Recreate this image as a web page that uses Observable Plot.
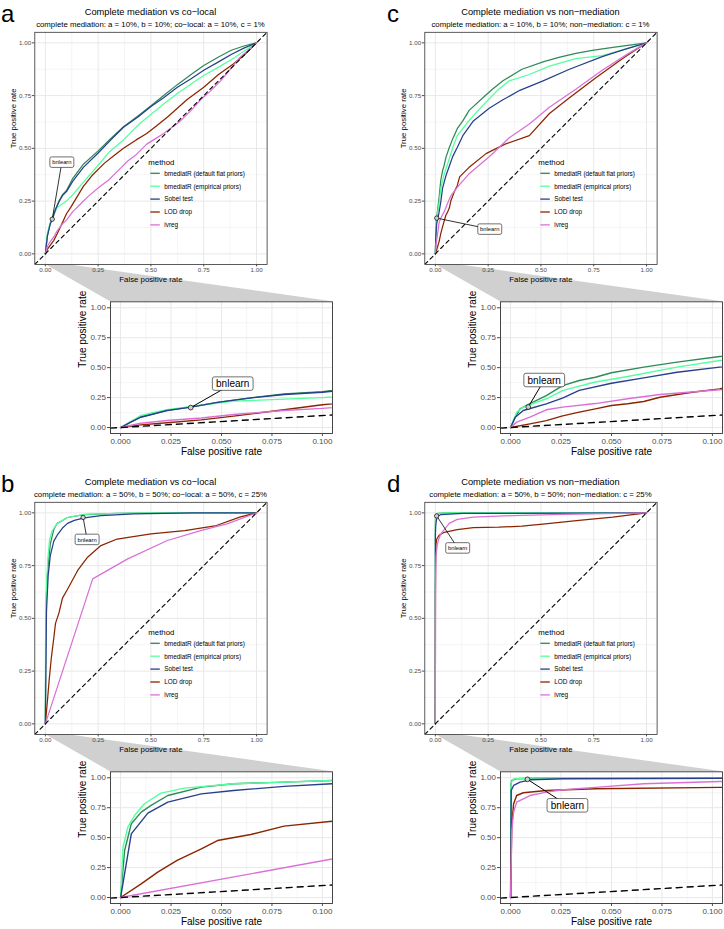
<!DOCTYPE html>
<html><head><meta charset="utf-8">
<script src="https://cdn.jsdelivr.net/npm/d3@7"></script>
<script src="https://cdn.jsdelivr.net/npm/@observablehq/plot@0.6"></script>
<style>
body{margin:0;background:#fff;}
#root{position:relative;width:724px;height:929px;overflow:hidden;background:#fff;}
#root svg{position:absolute;}
</style></head><body><div id="root"></div>
<script>
const FONT = "Liberation Sans, Arial, Helvetica, sans-serif";
const METHODS = ["bmediatR (default flat priors)","bmediatR (empirical priors)","Sobel test","LOD drop","ivreg"];
const COLORS = ["#2e8b57","#54ff9f","#27408b","#8b2500","#da70d6"];
const LETTERS = ["a","b","c","d"];
const TITLES = ["Complete mediation vs co\u2212local","Complete mediation vs co\u2212local","Complete mediation vs non\u2212mediation","Complete mediation vs non\u2212mediation"];
const SUBTITLES = [
  "complete mediation: a = 10%, b = 10%; co\u2212local: a = 10%, c = 1%",
  "complete mediation: a = 50%, b = 50%; co\u2212local: a = 50%, c = 25%",
  "complete mediation: a = 10%, b = 10%; non\u2212mediation: c = 1%",
  "complete mediation: a = 50%, b = 50%; non\u2212mediation: c = 25%"];
const X_LABEL = "False positive rate";
const Y_LABEL = "True positive rate";
const MAIN_BREAKS = [0,0.25,0.5,0.75,1];
const MAIN_MINOR = [0.125,0.375,0.625,0.875];
const ZOOM_BREAKS = [0,0.025,0.05,0.075,0.1];
const ZOOM_MINOR = [0.0125,0.0375,0.0625,0.0875];
const MAIN_DOMAIN = [-0.05,1.05];
const ZOOM_DOMAIN = [-0.005,0.105];

// [fpr, tpr] pairs
const a_flat = [[0,0],[0.005,0.045],[0.01,0.088],[0.023,0.143],[0.035,0.172],[0.048,0.21],[0.065,0.25],[0.081,0.28],[0.1,0.3],[0.13,0.358],[0.18,0.425],[0.25,0.488],[0.31,0.547],[0.37,0.602],[0.44,0.655],[0.5,0.702],[0.56,0.75],[0.625,0.802],[0.69,0.85],[0.75,0.893],[0.82,0.933],[0.88,0.965],[0.94,0.985],[1,1]];
const a_emp = [[0,0],[0.005,0.05],[0.01,0.1],[0.023,0.148],[0.035,0.175],[0.056,0.22],[0.081,0.237],[0.1,0.25],[0.13,0.28],[0.18,0.34],[0.25,0.42],[0.3,0.48],[0.37,0.54],[0.45,0.62],[0.5,0.66],[0.56,0.71],[0.625,0.76],[0.69,0.805],[0.75,0.845],[0.82,0.885],[0.88,0.92],[0.94,0.96],[1,1]];
const a_sobel = [[0,0],[0.005,0.045],[0.01,0.086],[0.023,0.142],[0.035,0.17],[0.048,0.21],[0.065,0.248],[0.081,0.276],[0.1,0.295],[0.13,0.345],[0.18,0.41],[0.25,0.478],[0.31,0.54],[0.37,0.6],[0.44,0.65],[0.5,0.698],[0.56,0.74],[0.625,0.79],[0.69,0.83],[0.75,0.87],[0.82,0.91],[0.88,0.945],[0.94,0.975],[1,1]];
const a_lod = [[0,0],[0.01,0.022],[0.023,0.04],[0.04,0.064],[0.056,0.095],[0.081,0.148],[0.1,0.19],[0.12,0.22],[0.15,0.27],[0.18,0.32],[0.22,0.37],[0.28,0.43],[0.33,0.47],[0.37,0.5],[0.43,0.54],[0.48,0.57],[0.53,0.61],[0.58,0.65],[0.67,0.73],[0.75,0.79],[0.82,0.85],[0.89,0.9],[0.95,0.95],[1,1]];
const a_iv = [[0,0],[0.01,0.036],[0.023,0.058],[0.04,0.08],[0.056,0.109],[0.081,0.142],[0.1,0.16],[0.13,0.2],[0.17,0.24],[0.2,0.27],[0.26,0.32],[0.3,0.35],[0.33,0.38],[0.36,0.41],[0.39,0.44],[0.43,0.47],[0.48,0.52],[0.52,0.545],[0.56,0.57],[0.6,0.6],[0.64,0.63],[0.69,0.68],[0.735,0.73],[0.78,0.77],[0.83,0.82],[0.88,0.88],[0.92,0.93],[0.96,0.965],[1,1]];

const b_flat = [[0,0],[0.002,0.393],[0.0053,0.616],[0.0102,0.713],[0.0151,0.769],[0.0234,0.852],[0.04,0.922],[0.056,0.95],[0.081,0.964],[0.105,0.978],[0.184,0.992],[0.34,0.998],[0.6,1],[1,1]];
const b_emp = [[0,0],[0.0012,0.42],[0.0036,0.588],[0.0069,0.685],[0.0118,0.783],[0.02,0.872],[0.0316,0.914],[0.056,0.95],[0.105,0.978],[0.184,0.993],[0.34,0.998],[0.6,1],[1,1]];
const b_sobel = [[0,0],[0.0053,0.532],[0.0135,0.705],[0.0234,0.797],[0.04,0.866],[0.056,0.894],[0.081,0.928],[0.105,0.95],[0.137,0.964],[0.184,0.976],[0.263,0.987],[0.42,0.995],[0.7,1],[1,1]];
const b_lod = [[0,0],[0.0102,0.114],[0.0184,0.212],[0.028,0.31],[0.04,0.407],[0.048,0.476],[0.0645,0.526],[0.081,0.596],[0.105,0.638],[0.153,0.727],[0.2,0.79],[0.263,0.845],[0.34,0.876],[0.5,0.9],[0.66,0.916],[0.81,0.94],[0.92,0.98],[1,1]];
const b_iv = [[0,0],[0.224,0.687],[0.39,0.782],[0.578,0.869],[0.735,0.916],[0.86,0.948],[1,1]];

const c_flat = [[0,0],[0.0023,0.086],[0.0047,0.156],[0.0096,0.2],[0.0177,0.267],[0.0258,0.35],[0.034,0.393],[0.042,0.42],[0.05,0.457],[0.066,0.504],[0.0825,0.546],[0.1036,0.593],[0.13,0.63],[0.16,0.68],[0.225,0.74],[0.27,0.78],[0.32,0.82],[0.41,0.875],[0.51,0.91],[0.58,0.93],[0.665,0.95],[0.75,0.965],[0.85,0.98],[1,1]];
const c_emp = [[0,0],[0.003,0.128],[0.0063,0.17],[0.0177,0.24],[0.026,0.31],[0.042,0.38],[0.058,0.426],[0.0825,0.504],[0.1036,0.56],[0.115,0.575],[0.15,0.62],[0.18,0.655],[0.255,0.735],[0.3,0.78],[0.35,0.82],[0.445,0.85],[0.54,0.89],[0.665,0.925],[0.79,0.94],[0.9,0.97],[1,1]];
const c_sobel = [[0,0],[0.0023,0.086],[0.0063,0.142],[0.0177,0.198],[0.026,0.248],[0.034,0.31],[0.05,0.37],[0.066,0.415],[0.0825,0.462],[0.1036,0.504],[0.13,0.56],[0.18,0.63],[0.255,0.69],[0.32,0.73],[0.4,0.775],[0.51,0.82],[0.635,0.875],[0.79,0.935],[0.9,0.97],[1,1]];
const c_lod = [[0,0],[0.0096,0.03],[0.0177,0.058],[0.0258,0.097],[0.034,0.128],[0.042,0.156],[0.05,0.184],[0.058,0.198],[0.066,0.217],[0.074,0.253],[0.09,0.295],[0.1036,0.323],[0.115,0.365],[0.13,0.38],[0.16,0.41],[0.24,0.475],[0.33,0.52],[0.445,0.56],[0.54,0.665],[0.635,0.74],[0.76,0.835],[0.885,0.925],[1,1]];
const c_iv = [[0,0],[0.003,0.045],[0.0096,0.086],[0.0177,0.148],[0.0258,0.17],[0.042,0.2],[0.058,0.24],[0.074,0.276],[0.1036,0.315],[0.16,0.38],[0.255,0.46],[0.35,0.55],[0.445,0.615],[0.54,0.695],[0.665,0.78],[0.79,0.87],[0.915,0.95],[1,1]];

const d_flat = [[0,0],[0.0001,0.5],[0.0002,0.95],[0.0006,0.978],[0.003,0.992],[0.015,0.998],[0.05,1],[1,1]];
const d_emp = [[0,0],[0.0002,0.96],[0.0015,0.99],[0.01,0.998],[0.05,1],[1,1]];
const d_sobel = [[0,0],[0.0003,0.894],[0.0015,0.936],[0.0047,0.964],[0.0096,0.983],[0.026,0.992],[0.13,0.997],[1,1]];
const d_lod = [[0,0],[0.0006,0.616],[0.0015,0.783],[0.003,0.852],[0.0063,0.875],[0.0177,0.894],[0.042,0.908],[0.1036,0.92],[0.18,0.93],[0.3,0.932],[0.41,0.937],[0.52,0.948],[0.68,0.964],[0.84,0.98],[1,1]];
const d_iv = [[0,0],[0.0006,0.56],[0.0015,0.713],[0.003,0.797],[0.0096,0.852],[0.0177,0.88],[0.026,0.9],[0.042,0.92],[0.066,0.95],[0.1036,0.969],[0.18,0.98],[0.366,0.987],[0.6,0.993],[1,1]];

// bnlearn single operating point per panel [fpr, tpr]
const BN = {a:[0.035,0.162], b:[0.181,0.976], c:[0.009,0.167], d:[0.0086,0.983]};
const SERIES = {a:[a_flat,a_emp,a_sobel,a_lod,a_iv], b:[b_flat,b_emp,b_sobel,b_lod,b_iv], c:[c_flat,c_emp,c_sobel,c_lod,c_iv], d:[d_flat,d_emp,d_sobel,d_lod,d_iv]};

// ---------- layout ----------
const LAYOUT = {
  a:{ox:0,oy:0, mainOff:[9.6,-57], zoomOff:[42,-24]},
  b:{ox:0,oy:470, mainOff:[4,22], zoomOff:[40,-20]},
  c:{ox:390,oy:0, mainOff:[53,11], zoomOff:[16,-27]},
  d:{ox:390,oy:470, mainOff:[21,32], zoomOff:[40,26]}
};

const ctx = document.createElement("canvas").getContext("2d");
function textWidth(s, fs){ ctx.font = fs + "px " + FONT; return ctx.measureText(s).width; }

function rowsFor(id){
  const out = [];
  SERIES[id].forEach((s,i)=>s.forEach(([f,t])=>out.push({method:METHODS[i], fpr:f, tpr:t})));
  return out;
}

function bnMark(pt, off, fs, padX, boxH, r, lw){
  return (index, scales, values, dims) => {
    const g = d3.create("svg:g");
    const px = scales.x(pt[0]), py = scales.y(pt[1]);
    if (px < dims.marginLeft || px > dims.width - dims.marginRight) return g.node();
    const lx = px + off[0], ly = py + off[1];
    const w = textWidth("bnlearn", fs) + 2*padX;
    g.append("line").attr("x1",px).attr("y1",py).attr("x2",lx).attr("y2",ly).attr("stroke","#000").attr("stroke-width",lw);
    g.append("rect").attr("x",lx-w/2).attr("y",ly-boxH/2).attr("width",w).attr("height",boxH).attr("rx",boxH*0.16)
      .attr("fill","#fff").attr("stroke","#333").attr("stroke-width",0.7);
    g.append("text").attr("x",lx).attr("y",ly).attr("dy","0.36em").attr("text-anchor","middle")
      .attr("font-size",fs).attr("fill","#000").attr("stroke","none").text("bnlearn");
    g.append("circle").attr("cx",px).attr("cy",py).attr("r",r).attr("fill","#cfcfcf").attr("stroke","#000").attr("stroke-width",0.7);
    return g.node();
  };
}

function legendMark(){
  return (index, scales, values, dims) => {
    const g = d3.create("svg:g").attr("text-anchor","start");
    const x0 = dims.marginLeft + 114, y0 = dims.marginTop + 130.2;
    g.append("text").attr("x",x0).attr("y",y0).attr("dy","0.36em").attr("text-anchor","start").attr("font-size",7.8).attr("fill","#000").text("method");
    METHODS.forEach((m,i)=>{
      const y = y0 + 11.3 + i*12.9;
      const col = scales.color ? scales.color(m) : COLORS[i];
      g.append("line").attr("x1",x0+2).attr("x2",x0+11.5).attr("y1",y).attr("y2",y).attr("stroke",col).attr("stroke-width",1.3);
      g.append("text").attr("x",x0+16).attr("y",y).attr("dy","0.36em").attr("text-anchor","start").attr("font-size",6.4).attr("fill","#000").text(m);
    });
    return g.node();
  };
}

function gridMarks(xMajor, xMinor, yMajor, yMinor){
  const mn = {stroke:"#ebebeb", strokeOpacity:1, strokeWidth:0.5};
  const mj = {stroke:"#e8e8e8", strokeOpacity:1, strokeWidth:1};
  return [Plot.gridX(xMinor, mn), Plot.gridY(yMinor, mn), Plot.gridX(xMajor, mj), Plot.gridY(yMajor, mj)];
}

function mainPlot(id){
  const L = LAYOUT[id];
  const rows = rowsFor(id);
  return Plot.plot({
    width: 270, height: 256,
    marginLeft: 34.3, marginRight: 3.4, marginTop: 3.8, marginBottom: 20.1,
    style: {background:"transparent", fontFamily: FONT, overflow:"visible"},
    x: {domain: MAIN_DOMAIN}, y: {domain: MAIN_DOMAIN},
    color: {domain: METHODS, range: COLORS},
    marks: [
      Plot.frame({fill:"#fff", stroke:null}),
      ...gridMarks(MAIN_BREAKS, MAIN_MINOR, MAIN_BREAKS, MAIN_MINOR),
      Plot.line(rows, {x:"fpr", y:"tpr", stroke:"method", z:"method", strokeWidth:1.25, clip:true}),
      Plot.line(MAIN_DOMAIN, {x:d=>d, y:d=>d, stroke:"#000", strokeWidth:1.1, strokeDasharray:"4,3.5", clip:true}),
      legendMark(),
      bnMark(BN[id], L.mainOff, 5.8, 2.3, 10.5, 2.2, 0.8),
      Plot.frame({stroke:"#333", strokeWidth:0.8}),
      Plot.axisX(MAIN_BREAKS, {tickFormat:d3.format(".2f"), fontSize:6.2, tickSize:2.5, tickPadding:1, color:"#4d4d4d", label:null}),
      Plot.axisY(MAIN_BREAKS, {tickFormat:d3.format(".2f"), fontSize:6.2, tickSize:2.5, tickPadding:1.2, color:"#4d4d4d", label:null}),
      Plot.text([X_LABEL], {frameAnchor:"bottom", lineAnchor:"middle", dy:15, fontSize:7.8, fill:"#000"}),
      Plot.text([Y_LABEL], {frameAnchor:"left", lineAnchor:"middle", dx:-21, rotate:-90, fontSize:7.8, fill:"#000"})
    ]
  });
}

function zoomPlot(id){
  const L = LAYOUT[id];
  const rows = rowsFor(id);
  return Plot.plot({
    width: 263, height: 164,
    marginLeft: 40, marginRight: 1, marginTop: 5.3, marginBottom: 27,
    style: {background:"transparent", fontFamily: FONT, overflow:"visible"},
    x: {domain: ZOOM_DOMAIN}, y: {domain: MAIN_DOMAIN},
    color: {domain: METHODS, range: COLORS},
    marks: [
      Plot.frame({fill:"#fff", stroke:null}),
      ...gridMarks(ZOOM_BREAKS, ZOOM_MINOR, MAIN_BREAKS, MAIN_MINOR),
      Plot.line(rows, {x:"fpr", y:"tpr", stroke:"method", z:"method", strokeWidth:1.4, clip:true}),
      Plot.line(ZOOM_DOMAIN, {x:d=>d, y:d=>d, stroke:"#000", strokeWidth:1.4, strokeDasharray:"6,5", clip:true}),
      bnMark(BN[id], L.zoomOff, 10, 3.7, 13.5, 2.4, 1),
      Plot.frame({stroke:"#333", strokeWidth:0.9}),
      Plot.axisX(ZOOM_BREAKS, {tickFormat:d3.format(".3f"), fontSize:8, tickSize:3, tickPadding:1.5, color:"#4d4d4d", label:null}),
      Plot.axisY(MAIN_BREAKS, {tickFormat:d3.format(".2f"), fontSize:8, tickSize:3, tickPadding:1.5, color:"#4d4d4d", label:null}),
      Plot.text([X_LABEL], {frameAnchor:"bottom", lineAnchor:"middle", dy:18.7, fontSize:10, fill:"#000"}),
      Plot.text([Y_LABEL], {frameAnchor:"left", lineAnchor:"middle", dx:-28, rotate:-90, fontSize:10, fill:"#000"})
    ]
  });
}

const root = document.getElementById("root");
const bg = d3.select(root).append("svg").attr("width",724).attr("height",929)
  .style("left","0px").style("top","0px").style("font-family",FONT);

const MAIN_POS = {dx:0, dy:28};
const ZOOM_POS = {dx:70, dy:296};

["a","b","c","d"].forEach((id, k)=>{
  const L = LAYOUT[id];
  const mp = mainPlot(id);
  const zp = zoomPlot(id);
  mp.style.left = (L.ox + MAIN_POS.dx) + "px"; mp.style.top = (L.oy + MAIN_POS.dy) + "px";
  zp.style.left = (L.ox + ZOOM_POS.dx) + "px"; zp.style.top = (L.oy + ZOOM_POS.dy) + "px";
  root.appendChild(mp); root.appendChild(zp);

  // zoom connector polygon computed from the plots' scales
  const mx = mp.scale("x"), my = mp.scale("y"), zx = zp.scale("x"), zy = zp.scale("y");
  const mBottom = L.oy + MAIN_POS.dy + my.apply(MAIN_DOMAIN[0]);
  const zTop = L.oy + ZOOM_POS.dy + zy.apply(MAIN_DOMAIN[1]);
  const pts = [
    [L.ox + MAIN_POS.dx + mx.apply(ZOOM_BREAKS[0]), mBottom],
    [L.ox + MAIN_POS.dx + mx.apply(ZOOM_BREAKS[ZOOM_BREAKS.length-1]), mBottom],
    [L.ox + ZOOM_POS.dx + zx.apply(ZOOM_DOMAIN[1]), zTop],
    [L.ox + ZOOM_POS.dx + zx.apply(ZOOM_DOMAIN[0]), zTop]
  ];
  bg.append("polygon").attr("points", pts.map(p=>p.join(",")).join(" ")).attr("fill","#d0d0d0");

  const cx = L.ox + MAIN_POS.dx + (mx.range[0] + mx.range[1]) / 2;
  bg.append("text").attr("x", cx).attr("y", L.oy + 15).attr("text-anchor","middle").attr("font-size",9.3).text(TITLES[k]);
  bg.append("text").attr("x", cx).attr("y", L.oy + 26.8).attr("text-anchor","middle").attr("font-size",7.8).text(SUBTITLES[k]);
  bg.append("text").attr("x", L.ox + (L.ox ? -3 : 1)).attr("y", L.oy + 21.5).attr("font-size",24).text(LETTERS[k]);
});
</script></body></html>
